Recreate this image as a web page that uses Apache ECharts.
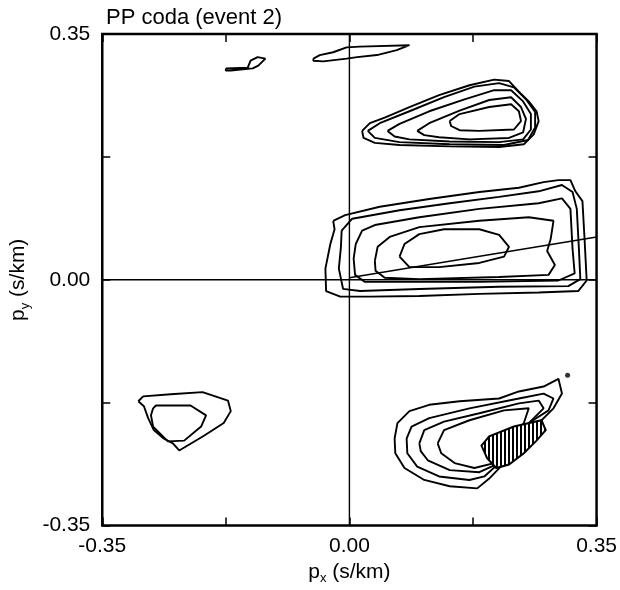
<!DOCTYPE html>
<html>
<head>
<meta charset="utf-8">
<script src="https://cdn.jsdelivr.net/npm/echarts@6/dist/echarts.min.js"></script>
<style>html,body{margin:0;padding:0;background:#fff}#c{width:620px;height:590px}</style>
</head>
<body>
<div id="c"></div>
<script>
// ---- data (slowness, s/km) ----
const titleText = 'PP coda (event 2)';
const axisMin = -0.35, axisMax = 0.35, tickStep = 0.175;
const labelledTicks = [-0.35, 0.00, 0.35];

// upper-right blob contours (outer -> inner)
const upperBlob = [
  [[0.018,0.212],[0.029,0.223],[0.050,0.231],[0.085,0.246],[0.127,0.263],[0.170,0.277],[0.205,0.285],[0.226,0.283],[0.240,0.268],[0.254,0.254],[0.265,0.240],[0.268,0.226],[0.261,0.207],[0.247,0.193],[0.212,0.189],[0.142,0.190],[0.071,0.192],[0.036,0.195],[0.020,0.202]],
  [[0.026,0.212],[0.043,0.223],[0.085,0.240],[0.134,0.260],[0.177,0.275],[0.212,0.280],[0.233,0.274],[0.250,0.257],[0.263,0.239],[0.263,0.217],[0.253,0.199],[0.219,0.192],[0.142,0.193],[0.071,0.196],[0.036,0.202]],
  [[0.054,0.212],[0.071,0.222],[0.113,0.240],[0.163,0.257],[0.205,0.270],[0.229,0.270],[0.246,0.254],[0.257,0.236],[0.257,0.214],[0.246,0.200],[0.212,0.196],[0.142,0.197],[0.085,0.200],[0.064,0.204]],
  [[0.096,0.212],[0.113,0.223],[0.156,0.241],[0.198,0.256],[0.229,0.260],[0.243,0.246],[0.250,0.229],[0.246,0.210],[0.226,0.202],[0.170,0.200],[0.127,0.203],[0.106,0.206]],
  [[0.142,0.226],[0.156,0.236],[0.198,0.246],[0.229,0.250],[0.240,0.240],[0.243,0.226],[0.233,0.214],[0.184,0.212],[0.156,0.213],[0.144,0.219]]
];

// central blob contours (outer -> inner)
const middleBlob = [
  [[-0.023,0.084],[-0.006,0.092],[0.043,0.104],[0.113,0.115],[0.184,0.125],[0.240,0.131],[0.275,0.139],[0.296,0.142],[0.313,0.142],[0.320,0.126],[0.330,0.112],[0.333,0.058],[0.336,-0.001],[0.324,-0.016],[0.268,-0.018],[0.184,-0.020],[0.099,-0.023],[0.029,-0.024],[-0.013,-0.024],[-0.033,-0.016],[-0.034,0.016],[-0.027,0.051],[-0.021,0.072]],
  [[-0.011,0.070],[0.004,0.087],[0.071,0.099],[0.142,0.109],[0.212,0.118],[0.268,0.126],[0.301,0.135],[0.316,0.125],[0.322,0.101],[0.325,0.044],[0.327,0.001],[0.310,-0.009],[0.212,-0.010],[0.099,-0.013],[0.015,-0.016],[-0.009,-0.013],[-0.015,0.016],[-0.012,0.047]],
  [[0.009,0.051],[0.018,0.070],[0.036,0.078],[0.099,0.089],[0.184,0.101],[0.268,0.109],[0.301,0.116],[0.313,0.101],[0.316,0.044],[0.319,0.009],[0.296,-0.001],[0.184,-0.003],[0.071,-0.003],[0.022,-0.003],[0.008,0.007],[0.006,0.030]],
  [[0.036,0.027],[0.040,0.047],[0.057,0.061],[0.099,0.075],[0.184,0.084],[0.254,0.089],[0.289,0.084],[0.285,0.058],[0.280,0.041],[0.291,0.021],[0.282,0.007],[0.212,0.004],[0.099,0.001],[0.050,0.003],[0.037,0.013]],
  [[0.071,0.033],[0.078,0.051],[0.099,0.065],[0.134,0.072],[0.184,0.072],[0.212,0.064],[0.226,0.047],[0.219,0.033],[0.184,0.024],[0.127,0.018],[0.085,0.018]]
];

// lower-right blob contours (outer -> inner)
const lowerBlob = [
  [[0.064,-0.226],[0.068,-0.204],[0.085,-0.187],[0.113,-0.178],[0.156,-0.173],[0.212,-0.169],[0.240,-0.159],[0.275,-0.152],[0.296,-0.141],[0.301,-0.162],[0.289,-0.183],[0.268,-0.204],[0.240,-0.226],[0.219,-0.261],[0.198,-0.283],[0.181,-0.297],[0.142,-0.294],[0.106,-0.285],[0.078,-0.268],[0.065,-0.247]],
  [[0.081,-0.226],[0.088,-0.209],[0.113,-0.197],[0.170,-0.183],[0.240,-0.169],[0.275,-0.162],[0.289,-0.169],[0.282,-0.186],[0.254,-0.204],[0.233,-0.233],[0.212,-0.261],[0.191,-0.280],[0.170,-0.285],[0.127,-0.280],[0.096,-0.266],[0.082,-0.247]],
  [[0.099,-0.233],[0.106,-0.214],[0.134,-0.202],[0.184,-0.190],[0.240,-0.176],[0.268,-0.172],[0.275,-0.183],[0.254,-0.204],[0.233,-0.237],[0.212,-0.261],[0.184,-0.274],[0.142,-0.271],[0.111,-0.257],[0.101,-0.244]],
  [[0.125,-0.233],[0.134,-0.214],[0.170,-0.200],[0.219,-0.186],[0.254,-0.183],[0.247,-0.204],[0.226,-0.240],[0.205,-0.261],[0.177,-0.268],[0.149,-0.261],[0.130,-0.247]]
];
const hatchedPeak = [[0.187,-0.236],[0.198,-0.223],[0.233,-0.209],[0.272,-0.200],[0.278,-0.214],[0.265,-0.229],[0.247,-0.247],[0.226,-0.263],[0.208,-0.268],[0.195,-0.254]];
const isolatedDot = [[0.309,-0.136]];

// lower-left blob
const leftBlob = [
  [[-0.299,-0.173],[-0.292,-0.166],[-0.253,-0.163],[-0.208,-0.160],[-0.172,-0.172],[-0.168,-0.187],[-0.178,-0.204],[-0.206,-0.222],[-0.241,-0.243],[-0.250,-0.233],[-0.263,-0.226],[-0.277,-0.214],[-0.285,-0.197],[-0.291,-0.180]],
  [[-0.278,-0.183],[-0.274,-0.179],[-0.225,-0.179],[-0.203,-0.193],[-0.210,-0.209],[-0.234,-0.229],[-0.257,-0.230],[-0.278,-0.209],[-0.281,-0.193]]
];

// small contours near the top edge
const topSmall = [
  [[-0.175,0.301],[-0.144,0.302],[-0.140,0.312],[-0.130,0.317],[-0.119,0.315],[-0.129,0.305],[-0.137,0.301],[-0.168,0.298],[-0.175,0.298]],
  [[-0.051,0.315],[-0.042,0.320],[-0.023,0.324],[-0.004,0.331],[0.015,0.332],[0.085,0.334],[0.067,0.327],[0.039,0.320],[0.011,0.317],[-0.004,0.315],[-0.037,0.311],[-0.051,0.312]]
];

// reference lines
const zeroVertical = [[0,-0.35],[0,0.35]];
const zeroHorizontal = [[-0.35,0],[0.35,0]];
const azimuthLine = [[0.0,0.003],[0.35,0.061]];

// ---- chart ----
const FONT = 'Liberation Sans, Arial, Helvetica, sans-serif';
function closed(p){ return p.concat([p[0]]); }
function fmt(v){
  for (const t of labelledTicks) if (Math.abs(v - t) < 1e-6) return (Math.abs(t) < 1e-9 ? 0 : t).toFixed(2);
  return '';
}

const series = [];
function addLine(data, w){
  series.push({type:'line', data:data, showSymbol:false, symbol:'none', silent:true, animation:false,
    lineStyle:{color:'#000', width:w}, xAxisIndex:0, yAxisIndex:0, z:3});
}
addLine(zeroVertical, 1.4);
addLine(zeroHorizontal, 1.4);
addLine(azimuthLine, 1.6);
[upperBlob, middleBlob, lowerBlob, leftBlob, topSmall].forEach(g => g.forEach(p => addLine(closed(p), 1.9)));

// hatch pattern
const pc = document.createElement('canvas');
pc.width = 4; pc.height = 4;
const pctx = pc.getContext('2d');
pctx.fillStyle = '#fff'; pctx.fillRect(0,0,4,4);
pctx.fillStyle = '#000'; pctx.fillRect(0,0,2,4);

series.push({
  type:'custom', silent:true, animation:false, z:4,
  data:[0],
  renderItem:function(params, api){
    const pts = hatchedPeak.map(p => api.coord(p));
    return {type:'polygon', shape:{points:pts},
      style:{fill:{image:pc, repeat:'repeat'}, stroke:'#000', lineWidth:2}};
  }
});
series.push({type:'scatter', data:isolatedDot, symbolSize:5, itemStyle:{color:'#000'}, silent:true, animation:false});

const axisCommon = {
  type:'value', min:axisMin, max:axisMax, interval:tickStep,
  splitLine:{show:false},
  axisLine:{show:false, onZero:false},
  axisTick:{show:true, inside:true, length:8, lineStyle:{color:'#000', width:1.5}}
};

const option = {
  backgroundColor:'#fff',
  animation:false,
  title:{text:titleText, left:101, top:2, textStyle:{fontFamily:FONT, fontSize:22, fontWeight:'normal', color:'#000'}},
  grid:{left:101, right:22, top:34, bottom:63, show:true, borderColor:'#000', borderWidth:2.5, backgroundColor:'transparent'},
  xAxis:[
    Object.assign({}, axisCommon, {position:'bottom',
      axisLabel:{formatter:fmt, color:'#000', fontFamily:FONT, fontSize:21, margin:10, showMinLabel:true, showMaxLabel:true},
      name:'{p|p}{s|x}{p| (s/km)}', nameLocation:'middle', nameGap:33,
      nameTextStyle:{color:'#000', fontFamily:FONT, rich:{p:{fontSize:21, fontFamily:FONT, color:'#000', lineHeight:26}, s:{fontSize:13, fontFamily:FONT, color:'#000', verticalAlign:'bottom', lineHeight:26}}}}),
    Object.assign({}, axisCommon, {position:'top', axisLabel:{show:false}})
  ],
  yAxis:[
    Object.assign({}, axisCommon, {position:'left',
      axisLabel:{formatter:fmt, color:'#000', fontFamily:FONT, fontSize:21, margin:12, showMinLabel:true, showMaxLabel:true},
      name:'{p|p}{s|y}{p| (s/km)}', nameLocation:'middle', nameGap:70, nameRotate:90,
      nameTextStyle:{color:'#000', fontFamily:FONT, rich:{p:{fontSize:21, fontFamily:FONT, color:'#000', lineHeight:26}, s:{fontSize:13, fontFamily:FONT, color:'#000', verticalAlign:'bottom', lineHeight:26}}}}),
    Object.assign({}, axisCommon, {position:'right', axisLabel:{show:false}})
  ],
  series:series
};

const chart = echarts.init(document.getElementById('c'), null, {renderer:'canvas'});
chart.setOption(option);
</script>
</body>
</html>
